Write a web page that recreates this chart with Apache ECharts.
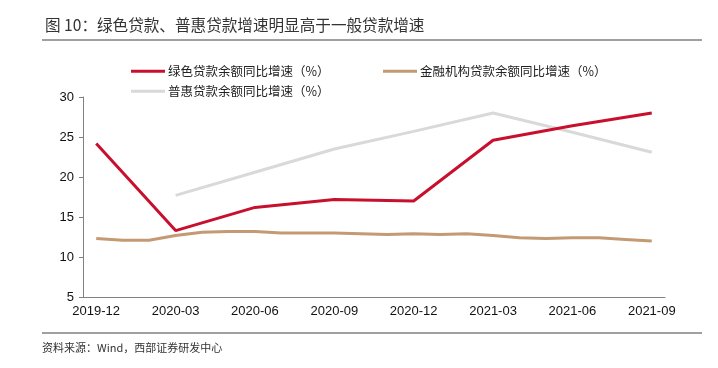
<!DOCTYPE html>
<html>
<head>
<meta charset="utf-8">
<script src="https://cdn.jsdelivr.net/npm/echarts@6/dist/echarts.min.js"></script>
<style>
html,body{margin:0;padding:0;background:#fff;}
#chart{width:718px;height:368px;}
</style>
</head>
<body>
<div id="chart"></div>
<script>
const months = ['2019-12','2020-01','2020-02','2020-03','2020-04','2020-05','2020-06','2020-07','2020-08','2020-09','2020-10','2020-11','2020-12','2021-01','2021-02','2021-03','2021-04','2021-05','2021-06','2021-07','2021-08','2021-09'];
const greenLoan = [24.2,null,null,13.3,null,null,16.2,null,null,17.2,null,null,17.0,null,null,24.6,null,null,26.4,null,null,28.0];
const inclusiveLoan = [null,null,null,17.7,null,null,20.6,null,null,23.5,null,null,25.7,null,null,28.0,null,null,25.6,null,null,23.1];
const allLoan = [12.3,12.1,12.1,12.7,13.1,13.2,13.2,13.0,13.0,13.0,12.9,12.8,12.9,12.8,12.9,12.7,12.4,12.3,12.4,12.4,12.2,12.0];
const seriesNames = ['绿色贷款余额同比增速（%）','金融机构贷款余额同比增速（%）','普惠贷款余额同比增速（%）'];
const yTicks = {min:5, max:30, interval:5};

const cjk = '"Noto Sans CJK SC", "Noto Sans", sans-serif';
const latin = '"Liberation Sans", Arial, sans-serif';
const chart = echarts.init(document.getElementById('chart'));
const legendBase = {
  orient:'horizontal', itemWidth:34, itemHeight:3, icon:'rect', itemGap:0,
  textStyle:{fontFamily:cjk, fontSize:12.5, color:'#222', padding:[0,0,0,-2]}
};
chart.setOption({
  animation:false,
  title:{text:'图 10：绿色贷款、普惠贷款增速明显高于一般贷款增速', left:40, top:12,
    textStyle:{fontFamily:cjk, fontSize:15.6, fontWeight:'normal', color:'#333'}},
  legend:[
    Object.assign({}, legendBase, {data:[seriesNames[0]], left:126, top:60}),
    Object.assign({}, legendBase, {data:[seriesNames[1]], left:378, top:60}),
    Object.assign({}, legendBase, {data:[seriesNames[2]], left:126, top:80})
  ],
  grid:{left:83, right:53, top:97, bottom:71},
  xAxis:{type:'category', data:months, boundaryGap:true,
    axisLine:{lineStyle:{color:'#808080', width:1}},
    axisTick:{interval:2, inside:true, length:4, lineStyle:{color:'#808080'}},
    axisLabel:{interval:2, color:'#111', fontFamily:latin, fontSize:13, margin:8}},
  yAxis:{type:'value', min:yTicks.min, max:yTicks.max, interval:yTicks.interval,
    axisLine:{show:true, lineStyle:{color:'#808080', width:1}},
    axisTick:{show:true, length:4, lineStyle:{color:'#808080'}},
    splitLine:{show:false},
    axisLabel:{color:'#111', fontFamily:latin, fontSize:13, margin:9}},
  series:[
    {name:seriesNames[2], type:'line', data:inclusiveLoan, connectNulls:true, symbol:'none',
      lineStyle:{color:'#D9D9D9', width:3}, itemStyle:{color:'#D9D9D9'}, z:2},
    {name:seriesNames[1], type:'line', data:allLoan, symbol:'none',
      lineStyle:{color:'#C49A74', width:3}, itemStyle:{color:'#C49A74'}, z:3},
    {name:seriesNames[0], type:'line', data:greenLoan, connectNulls:true, symbol:'none',
      lineStyle:{color:'#C8102E', width:3}, itemStyle:{color:'#C8102E'}, z:4}
  ],
  graphic:[
    {type:'line', shape:{x1:42, y1:40, x2:702, y2:40}, style:{stroke:'#808080', lineWidth:1.5}},
    {type:'line', shape:{x1:42, y1:333, x2:702, y2:333}, style:{stroke:'#808080', lineWidth:1.5}},
    {type:'text', left:42, top:342, style:{text:'资料来源：Wind，西部证券研发中心', font:'11px '+cjk, fill:'#333'}}
  ]
});
</script>
</body>
</html>
